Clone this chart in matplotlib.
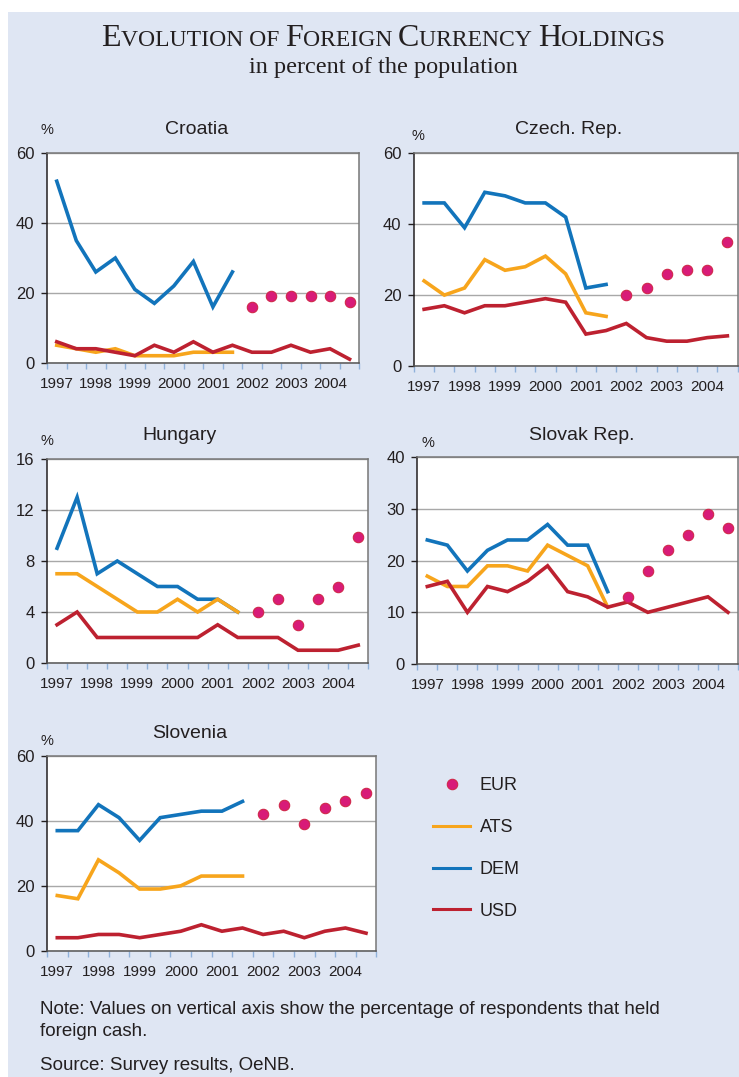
import numpy as np
import matplotlib
matplotlib.use("Agg")
import matplotlib.pyplot as plt
from matplotlib.lines import Line2D

W, H = 739, 1077

years = ["1997", "1998", "1999", "2000", "2001", "2002", "2003", "2004"]
n_surveys = 16  # two surveys a year, 1997-2004

# DEM and ATS run from the first survey, EUR covers the last six
croatia_dem = [52, 35, 26, 30, 21, 17, 22, 29, 16, 26]
croatia_ats = [5, 4, 3, 4, 2, 2, 2, 3, 3, 3]
croatia_usd = [6, 4, 4, 3, 2, 5, 3, 6, 3, 5, 3, 3, 5, 3, 4, 1]
croatia_eur = [16, 19, 19, 19, 19, 17.5]

czech_dem = [46, 46, 39, 49, 48, 46, 46, 42, 22, 23]
czech_ats = [24, 20, 22, 30, 27, 28, 31, 26, 15, 14]
czech_usd = [16, 17, 15, 17, 17, 18, 19, 18, 9, 10, 12, 8, 7, 7, 8, 8.5]
czech_eur = [20, 22, 26, 27, 27, 35]

hungary_dem = [9, 13, 7, 8, 7, 6, 6, 5, 5, 4]
hungary_ats = [7, 7, 6, 5, 4, 4, 5, 4, 5, 4]
hungary_usd = [3, 4, 2, 2, 2, 2, 2, 2, 3, 2, 2, 2, 1, 1, 1, 1.4]
hungary_eur = [4, 5, 3, 5, 6, 9.9]

slovak_dem = [24, 23, 18, 22, 24, 24, 27, 23, 23, 14]
slovak_ats = [17, 15, 15, 19, 19, 18, 23, 21, 19, 11]
slovak_usd = [15, 16, 10, 15, 14, 16, 19, 14, 13, 11, 12, 10, 11, 12, 13, 10]
slovak_eur = [13, 18, 22, 25, 29, 26.3]

slovenia_dem = [37, 37, 45, 41, 34, 41, 42, 43, 43, 46]
slovenia_ats = [17, 16, 28, 24, 19, 19, 20, 23, 23, 23]
slovenia_usd = [4, 4, 5, 5, 4, 5, 6, 8, 6, 7, 5, 6, 4, 6, 7, 5.4]
slovenia_eur = [42, 45, 39, 44, 46, 48.7]

COLORS = {"EUR": "#d81b78", "ATS": "#f7a51c", "DEM": "#1274bb", "USD": "#bd2130"}
BG = "#dfe6f3"
TXT = "#231f20"

plt.rcParams["font.family"] = ["Liberation Sans", "DejaVu Sans"]


def px_box(left, top, right, bottom):
    return [left / W, 1 - bottom / H, (right - left) / W, (bottom - top) / H]


def fig_text(fig, x, y, s, **kw):
    return fig.text(x / W, 1 - y / H, s, **kw)


def draw_panel(ax, dem, ats, usd, eur, yticks):
    x = np.arange(n_surveys)
    ax.plot(x[:len(dem)], dem, color=COLORS["DEM"], lw=2.6, solid_joinstyle="miter")
    ax.plot(x[:len(ats)], ats, color=COLORS["ATS"], lw=2.6, solid_joinstyle="miter")
    ax.plot(x[:len(usd)], usd, color=COLORS["USD"], lw=2.6, solid_joinstyle="miter")
    ax.plot(x[n_surveys - len(eur):], eur, "o", color=COLORS["EUR"],
            markersize=7.5, markeredgecolor="#d0284a", markeredgewidth=0.8)

    ax.set_xlim(-0.5, n_surveys - 0.5)
    ax.set_ylim(yticks[0], yticks[-1])
    ax.set_yticks(yticks)
    ax.set_xticks(np.arange(n_surveys + 1) - 0.5)
    ax.set_xticklabels([])
    ax.set_xticks(np.arange(0, n_surveys, 2), labels=years, minor=True)

    ax.tick_params(axis="y", direction="out", length=4, width=1, color=TXT,
                   pad=5, labelsize=12, labelcolor=TXT)
    ax.tick_params(axis="x", which="major", direction="out", length=4, width=1,
                   color="#8fb1da")
    ax.tick_params(axis="x", which="minor", length=0, pad=10, labelsize=11,
                   labelcolor=TXT)

    ax.grid(axis="y", color="#a8a8a8", lw=1)
    ax.set_axisbelow(True)
    ax.spines["left"].set_color(TXT)
    ax.spines["bottom"].set_color("#555555")
    ax.spines["top"].set_color("#777777")
    ax.spines["right"].set_color("#777777")
    for s in ax.spines.values():
        s.set_linewidth(1.1)


def small_caps_title(fig, text, cx, base_y, big, small):
    # capitals at full size, lower case drawn as smaller capitals
    renderer = fig.canvas.get_renderer()
    chunks = []
    for ch in text:
        size = big if ch.isupper() else small
        if chunks and chunks[-1][1] == size:
            chunks[-1][0] += ch.upper()
        else:
            chunks.append([ch.upper(), size])
    pieces = []
    x = 0.0
    for chunk, size in chunks:
        t = fig_text(fig, 0, base_y, chunk.replace(" ", "\u00a0"), fontsize=size,
                     va="baseline", family="Liberation Serif", color=TXT)
        pieces.append((t, x))
        x += t.get_window_extent(renderer).width
    start = cx - x / 2
    for t, off in pieces:
        t.set_x((start + off) / W)


fig = plt.figure(figsize=(W / 100, H / 100), dpi=100, facecolor="white")
fig.add_artist(plt.Rectangle((8 / W, 0), 1, 1 - 12 / H, transform=fig.transFigure,
                             facecolor=BG, edgecolor="none", zorder=0))

panels = [
    ("Croatia", (47, 153.3, 359.3, 362.7), (197, 129), (47, 130),
     croatia_dem, croatia_ats, croatia_usd, croatia_eur, [0, 20, 40, 60]),
    ("Czech. Rep.", (414, 153.3, 737.5, 366), (569, 130), (418, 136),
     czech_dem, czech_ats, czech_usd, czech_eur, [0, 20, 40, 60]),
    ("Hungary", (47, 459, 368.3, 663), (180, 435), (47, 441),
     hungary_dem, hungary_ats, hungary_usd, hungary_eur, [0, 4, 8, 12, 16]),
    ("Slovak Rep.", (417.3, 457.3, 738, 664), (582, 435), (428, 443),
     slovak_dem, slovak_ats, slovak_usd, slovak_eur, [0, 10, 20, 30, 40]),
    ("Slovenia", (47, 756, 376.3, 950.7), (190, 733), (47, 741),
     slovenia_dem, slovenia_ats, slovenia_usd, slovenia_eur, [0, 20, 40, 60]),
]

for name, box, title_xy, pct_xy, dem, ats, usd, eur, yticks in panels:
    ax = fig.add_axes(px_box(*box))
    draw_panel(ax, dem, ats, usd, eur, yticks)
    fig_text(fig, *title_xy, name, fontsize=14, ha="center", va="center", color=TXT)
    fig_text(fig, *pct_xy, "%", fontsize=10.5, ha="center", va="center", color=TXT)

handles = [
    Line2D([], [], ls="none", marker="o", color=COLORS["EUR"], markersize=7.5,
           markeredgecolor="#d0284a", markeredgewidth=0.8),
    Line2D([], [], color=COLORS["ATS"], lw=2.2),
    Line2D([], [], color=COLORS["DEM"], lw=2.2),
    Line2D([], [], color=COLORS["USD"], lw=2.2),
]
fig.legend(handles, ["EUR", "ATS", "DEM", "USD"], loc="upper left",
           bbox_to_anchor=(433 / W, 1 - 777 / H), frameon=False, fontsize=13,
           handlelength=2.05, handletextpad=0.55, labelspacing=1.38, borderpad=0,
           borderaxespad=0, labelcolor=TXT)

small_caps_title(fig, "Evolution of Foreign Currency Holdings", 383, 46, 23, 17)
fig_text(fig, 383, 67, "in percent of the population", fontsize=17.5, ha="center",
         va="center", family="Liberation Serif", color=TXT)

fig_text(fig, 40, 1010, "Note: Values on vertical axis show the percentage of respondents that held",
         fontsize=13.5, va="center", color=TXT)
fig_text(fig, 40, 1032, "foreign cash.", fontsize=13.5, va="center", color=TXT)
fig_text(fig, 40, 1066, "Source: Survey results, OeNB.", fontsize=13.5, va="center", color=TXT)

fig.savefig("out.png", dpi=100, facecolor=fig.get_facecolor())
